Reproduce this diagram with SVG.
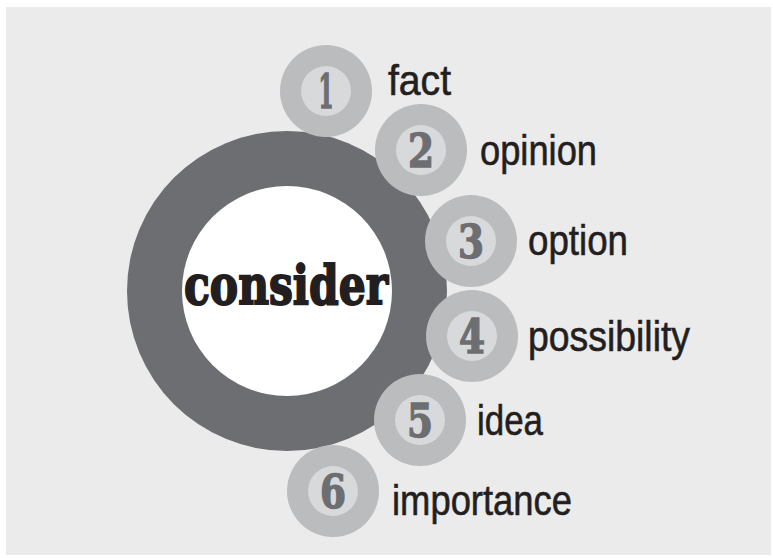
<svg xmlns="http://www.w3.org/2000/svg" width="773" height="558" viewBox="0 0 773 558">
<defs>
<style>
.ring{fill:#bbbcbe}
.core{fill:#d8d9db}
.num{font-family:"DejaVu Serif","Liberation Serif",serif;font-weight:bold;font-size:46px;fill:#6d6e71;stroke:#6d6e71;stroke-width:1.5;text-anchor:middle}
.lbl{font-family:"Liberation Sans","Arial",sans-serif;font-size:43px;fill:#231f20;stroke:#231f20;stroke-width:0.6}
</style>
</defs>
<rect x="0" y="0" width="773" height="558" fill="#ffffff"/>
<rect x="6" y="7" width="765" height="548" fill="#ebebeb"/>
<g id="center">
<circle cx="287" cy="291" r="160" fill="#6d6e71"/>
<circle cx="287" cy="291" r="105" fill="#ffffff"/>
<text x="286" y="304" font-family="DejaVu Serif, Liberation Serif, serif" font-weight="bold" font-size="54" fill="#231f20" stroke="#231f20" stroke-width="2" text-anchor="middle" textLength="204" lengthAdjust="spacingAndGlyphs">consider</text>
</g>
<g id="connectors"></g>
<g id="n1">
<circle class="ring" cx="326" cy="91" r="46"/>
<circle class="core" cx="326" cy="91" r="25"/>
<text class="num" x="326" y="108" textLength="15" lengthAdjust="spacingAndGlyphs">1</text>
<text class="lbl" x="388" y="95" textLength="63" lengthAdjust="spacingAndGlyphs">fact</text>
</g>
<g id="n2">
<circle class="ring" cx="421" cy="150" r="46"/>
<circle class="core" cx="421" cy="150" r="25"/>
<text class="num" x="421" y="167" textLength="26" lengthAdjust="spacingAndGlyphs">2</text>
<text class="lbl" x="480" y="165" textLength="117" lengthAdjust="spacingAndGlyphs">opinion</text>
</g>
<g id="n3">
<circle class="ring" cx="471" cy="241" r="46"/>
<circle class="core" cx="471" cy="241" r="25"/>
<text class="num" x="471" y="258" textLength="26" lengthAdjust="spacingAndGlyphs">3</text>
<text class="lbl" x="528" y="255" textLength="100" lengthAdjust="spacingAndGlyphs">option</text>
</g>
<g id="n4">
<circle class="ring" cx="472" cy="336" r="46"/>
<circle class="core" cx="472" cy="336" r="25"/>
<text class="num" x="472" y="353" textLength="26" lengthAdjust="spacingAndGlyphs">4</text>
<text class="lbl" x="528" y="351" textLength="162" lengthAdjust="spacingAndGlyphs">possibility</text>
</g>
<g id="n5">
<circle class="ring" cx="420" cy="420" r="46"/>
<circle class="core" cx="420" cy="420" r="25"/>
<text class="num" x="420" y="437" textLength="26" lengthAdjust="spacingAndGlyphs">5</text>
<text class="lbl" x="477" y="435" textLength="66" lengthAdjust="spacingAndGlyphs">idea</text>
</g>
<g id="n6">
<circle class="ring" cx="333" cy="491" r="46"/>
<circle class="core" cx="333" cy="491" r="25"/>
<text class="num" x="333" y="508" textLength="26" lengthAdjust="spacingAndGlyphs">6</text>
<text class="lbl" x="392" y="515" textLength="180" lengthAdjust="spacingAndGlyphs">importance</text>
</g>
</svg>
